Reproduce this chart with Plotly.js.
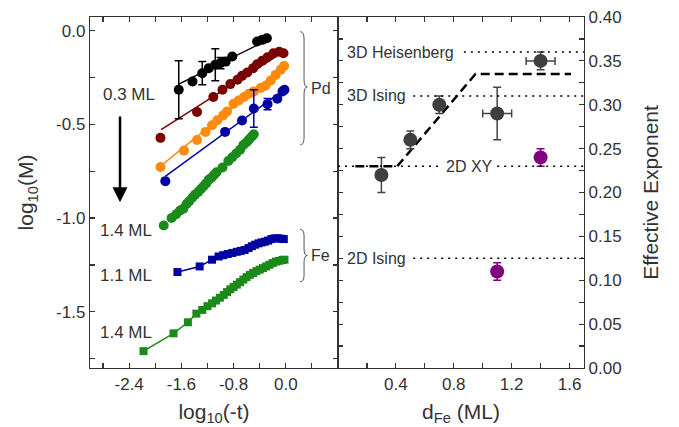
<!DOCTYPE html>
<html><head><meta charset="utf-8">
<script src="https://cdn.plot.ly/plotly-3.0.1.min.js"></script>
<style>html,body{margin:0;padding:0;background:#fff}</style>
</head><body><div id="chart" style="width:679px;height:427px"></div>
<script>
// ---------- Left panel: log10(M) vs log10(-t) ----------
const pd03X = [-1.64, -1.43, -1.28, -1.18, -1.08, -1.00, -0.92, -0.82, -0.44, -0.36, -0.29];
const pd03Y = [-0.315, -0.271, -0.227, -0.200, -0.182, -0.173, -0.165, -0.138, -0.058, -0.049, -0.040];
const pd03Err = [0.155, null, 0.062, null, 0.085, 0.03, null, null, null, null, null];
const pd03FitX = [-1.64, -0.28];
const pd03FitY = [-0.285, -0.050];

const pdBX = [-1.92, -1.36, -1.11, -0.97, -0.85, -0.74, -0.67, -0.59, -0.50, -0.44, -0.36, -0.28, -0.19, -0.10, -0.035];
const pdBY = [-0.572, -0.434, -0.354, -0.315, -0.285, -0.262, -0.241, -0.223, -0.200, -0.179, -0.160, -0.142, -0.120, -0.112, -0.120];
const pdBFitX = [-1.91, -0.03];
const pdBFitY = [-0.528, -0.112];

const pdCX = [-1.92, -1.56, -1.36, -1.23, -1.13, -1.05, -0.96, -0.90, -0.80, -0.72, -0.64, -0.565, -0.49, -0.385, -0.31, -0.23, -0.154, -0.077, -0.026];
const pdCY = [-0.727, -0.640, -0.583, -0.540, -0.505, -0.478, -0.452, -0.431, -0.390, -0.372, -0.354, -0.337, -0.324, -0.306, -0.294, -0.266, -0.236, -0.209, -0.188];
const pdCFitX = [-1.92, -0.03];
const pdCFitY = [-0.723, -0.191];

const pdDX = [-1.846, -0.93, -0.67, -0.49, -0.28, -0.13, -0.05, -0.02];
const pdDY = [-0.803, -0.540, -0.479, -0.415, -0.392, -0.363, -0.324, -0.315];
const pdDErr = [null, null, null, 0.10, 0.03, null, null, null];
const pdDFitX = [-1.846, -0.026];
const pdDFitY = [-0.777, -0.315];

const pd14X = [-1.87, -1.75, -1.68, -1.62, -1.57, -1.52, -1.48, -1.43, -1.39, -1.34, -1.30, -1.26, -1.22, -1.18, -1.14, -1.10, -1.06, -0.97, -0.88, -0.82, -0.76, -0.70, -0.65, -0.60, -0.56, -0.52, -0.49];
const pd14Y = [-1.04, -1.00, -0.98, -0.96, -0.95, -0.925, -0.91, -0.89, -0.875, -0.86, -0.845, -0.83, -0.815, -0.795, -0.785, -0.77, -0.755, -0.73, -0.695, -0.675, -0.655, -0.635, -0.61, -0.595, -0.58, -0.565, -0.553];

const fe11X = [-1.66, -1.32, -1.13, -1.03, -0.96, -0.89, -0.82, -0.75, -0.69, -0.63, -0.57, -0.52, -0.47, -0.42, -0.37, -0.32, -0.27, -0.22, -0.17, -0.12, -0.07, -0.03];
const fe11Y = [-1.288, -1.258, -1.222, -1.205, -1.198, -1.192, -1.186, -1.180, -1.175, -1.170, -1.160, -1.150, -1.142, -1.135, -1.130, -1.126, -1.120, -1.112, -1.108, -1.108, -1.110, -1.112];

const fe14X = [-2.18, -1.72, -1.50, -1.37, -1.28, -1.20, -1.13, -1.07, -1.01, -0.95, -0.90, -0.85, -0.80, -0.75, -0.70, -0.65, -0.60, -0.55, -0.50, -0.45, -0.40, -0.35, -0.30, -0.25, -0.20, -0.15, -0.10, -0.05, -0.02];
const fe14Y = [-1.71, -1.615, -1.556, -1.51, -1.49, -1.47, -1.455, -1.44, -1.425, -1.41, -1.395, -1.38, -1.368, -1.355, -1.342, -1.328, -1.315, -1.303, -1.293, -1.283, -1.275, -1.267, -1.258, -1.249, -1.24, -1.232, -1.228, -1.224, -1.222];

const leftXTicks = [-2.4, -1.6, -0.8, 0.0];
const leftXTickText = ["-2.4", "-1.6", "-0.8", "0.0"];
const leftYTicks = [0.0, -0.5, -1.0, -1.5];
const leftYTickText = ["0.0", "-0.5", "-1.0", "-1.5"];

// ---------- Right panel: effective exponent vs d_Fe ----------
const dFe = [0.3, 0.5, 0.7, 1.1, 1.4];
const beta = [0.22, 0.26, 0.30, 0.29, 0.35];
const betaErr = [0.02, 0.01, 0.01, 0.03, 0.01];
const dFeErr = [null, null, null, 0.1, 0.1];
const dFeP = [1.1, 1.4];
const betaP = [0.11, 0.24];
const betaPErr = [0.01, 0.01];
const guideX = [0.12, 0.41, 0.95, 1.61];
const guideY = [0.23, 0.23, 0.335, 0.335];
const classNames = ["3D Heisenberg", "3D Ising", "2D XY", "2D Ising"];
const classValues = [0.36, 0.31, 0.23, 0.125];
const rightXTicks = [0.4, 0.8, 1.2, 1.6];

// ---------- styling ----------
const FONT = "Liberation Sans, Arial, sans-serif";
const TXT = "#333333";
const AX = "#333333";
const cBlack = "#000000", cMaroon = "#7a0000", cOrange = "#ff8a10", cBlue = "#0000a0", cGreen = "#1a8a1a";

function pts(x, y, color, symbol, size, err, errColor) {
  const t = {x: x, y: y, xaxis: 'x', yaxis: 'y', mode: 'markers', type: 'scatter',
    marker: {color: color, size: size, symbol: symbol, line: {width: 0}}, hoverinfo: 'skip'};
  if (err) t.error_y = {type: 'data', array: err, visible: true, color: errColor || color, thickness: 1.5, width: 4};
  return t;
}
function fit(x, y, color, extra) {
  return Object.assign({x: x, y: y, xaxis: 'x', yaxis: 'y', mode: 'lines', type: 'scatter',
    line: {color: color, width: 1.5}, hoverinfo: 'skip'}, extra || {});
}

const traces = [
  fit(pdBFitX, pdBFitY, cMaroon), pts(pdBX, pdBY, cMaroon, 'circle', 10),
  fit(pdCFitX, pdCFitY, cOrange), pts(pdCX, pdCY, cOrange, 'circle', 10),
  fit(pdDFitX, pdDFitY, cBlue), pts(pdDX, pdDY, cBlue, 'circle', 10, pdDErr),
  pts(pd14X, pd14Y, cGreen, 'circle', 10),
  fit(pd03FitX, pd03FitY, cBlack), pts(pd03X, pd03Y, cBlack, 'circle', 10, pd03Err),
  {x: fe11X, y: fe11Y, xaxis: 'x', yaxis: 'y', mode: 'lines+markers', type: 'scatter',
    line: {color: cBlue, width: 1.5}, marker: {color: cBlue, size: 8, symbol: 'square'}, hoverinfo: 'skip'},
  {x: fe14X, y: fe14Y, xaxis: 'x', yaxis: 'y', mode: 'lines+markers', type: 'scatter',
    line: {color: cGreen, width: 1.5}, marker: {color: cGreen, size: 8, symbol: 'square'}, hoverinfo: 'skip'},
  // right panel
  {x: guideX, y: guideY, xaxis: 'x2', yaxis: 'y2', mode: 'lines', type: 'scatter',
    line: {color: '#000', width: 2.5, dash: '9px,5px'}, hoverinfo: 'skip'},
  {x: dFe, y: beta, xaxis: 'x2', yaxis: 'y2', mode: 'markers', type: 'scatter',
    marker: {color: '#3f3f3f', size: 14},
    error_y: {type: 'data', array: betaErr, color: '#444', thickness: 1.5, width: 4},
    error_x: {type: 'data', array: dFeErr, color: '#444', thickness: 1.5, width: 4}, hoverinfo: 'skip'},
  {x: dFeP, y: betaP, xaxis: 'x2', yaxis: 'y2', mode: 'markers', type: 'scatter',
    marker: {color: '#800080', size: 14},
    error_y: {type: 'data', array: betaPErr, color: '#800080', thickness: 1.5, width: 4}, hoverinfo: 'skip'}
];

// dotted reference lines (start/end in x2 units)
const dotSegs = [[[0.87, 1.7]], [[0.52, 1.7]], [[0.0, 0.72], [1.10, 1.7]], [[0.52, 1.7]]];
const shapes = [];
classValues.forEach((v, i) => {
  dotSegs[i].forEach(s => shapes.push({type: 'line', xref: 'x2', yref: 'y2', x0: s[0], x1: s[1], y0: v, y1: v,
    line: {color: '#000', width: 1.5, dash: '2px,5px'}}));
});
// curly braces (left panel)
function brace(xl, xm, xr, yT, yC, yB, r) {
  return {type: 'path', xref: 'x', yref: 'y', line: {color: '#555', width: 1},
    path: `M${xl},${yT} Q${xm},${yT} ${xm},${yT - r} L${xm},${yC + r} Q${xm},${yC} ${xr},${yC} Q${xm},${yC} ${xm},${yC - r} L${xm},${yB + r} Q${xm},${yB} ${xl},${yB}`};
}
shapes.push(brace(0.22, 0.28, 0.33, -0.005, -0.30, -0.61, 0.04));
shapes.push(brace(0.22, 0.28, 0.33, -1.06, -1.20, -1.34, 0.035));

const annFont = {family: FONT, size: 16, color: TXT};
const mlFont = {family: FONT, size: 17, color: TXT};
const annotations = [
  {xref: 'x', yref: 'y', x: -2.41, y: -0.34, text: '0.3 ML', showarrow: false, font: mlFont},
  {xref: 'x', yref: 'y', x: -2.45, y: -1.065, text: '1.4 ML', showarrow: false, font: mlFont},
  {xref: 'x', yref: 'y', x: -2.45, y: -1.305, text: '1.1 ML', showarrow: false, font: mlFont},
  {xref: 'x', yref: 'y', x: -2.45, y: -1.613, text: '1.4 ML', showarrow: false, font: mlFont},
  {xref: 'x', yref: 'y', x: 0.36, y: -0.31, text: 'Pd', showarrow: false, xanchor: 'left', font: annFont},
  {xref: 'x', yref: 'y', x: 0.36, y: -1.20, text: 'Fe', showarrow: false, xanchor: 'left', font: annFont},
  {xref: 'x', yref: 'y', x: -2.54, y: -0.915, ax: -2.54, ay: -0.45, axref: 'x', ayref: 'y', text: '',
    showarrow: true, arrowhead: 2, arrowsize: 1.2, arrowwidth: 2.5, arrowcolor: '#000'},
  {xref: 'x2', yref: 'y2', x: 0.048, y: classValues[0], text: classNames[0], showarrow: false, xanchor: 'left', font: annFont},
  {xref: 'x2', yref: 'y2', x: 0.048, y: classValues[1], text: classNames[1], showarrow: false, xanchor: 'left', font: annFont},
  {xref: 'x2', yref: 'y2', x: 0.91, y: classValues[2], text: classNames[2], showarrow: false, font: annFont},
  {xref: 'x2', yref: 'y2', x: 0.048, y: classValues[3], text: classNames[3], showarrow: false, xanchor: 'left', font: annFont}
];

const tickFont = {family: FONT, size: 17, color: TXT};
const titleFont = {family: FONT, size: 21, color: TXT};
const axBase = {showgrid: false, zeroline: false, showline: true, linecolor: AX, linewidth: 1.2,
  ticks: 'inside', ticklen: 5, tickwidth: 1.2, tickcolor: AX, mirror: 'allticks', tickfont: tickFont};

const layout = {
  width: 679, height: 427,
  margin: {l: 90, r: 95, t: 17, b: 59},
  paper_bgcolor: '#fff', plot_bgcolor: '#fff',
  showlegend: false,
  font: {family: FONT, color: TXT},
  xaxis: Object.assign({}, axBase, {domain: [0, 0.502], range: [-3.0, 0.8], anchor: 'y',
    tickmode: 'array', tickvals: leftXTicks, ticktext: leftXTickText,
    minor: {dtick: 0.4, tick0: 0, ticks: 'inside', ticklen: 5, tickwidth: 1.2, tickcolor: AX},
    title: {text: 'log<sub>10</sub>(-t)', font: titleFont, standoff: 11}}),
  yaxis: Object.assign({}, axBase, {domain: [0, 1], range: [-1.8, 0.073], anchor: 'x',
    tickmode: 'array', tickvals: leftYTicks, ticktext: leftYTickText,
    minor: {dtick: 0.25, tick0: 0, ticks: 'inside', ticklen: 5, tickwidth: 1.2, tickcolor: AX},
    title: {text: 'log<sub>10</sub>(M)', font: titleFont, standoff: 16}}),
  xaxis2: Object.assign({}, axBase, {domain: [0.502, 1], range: [0, 1.7], anchor: 'y2',
    tickmode: 'array', tickvals: rightXTicks, ticktext: rightXTicks.map(v => v.toFixed(1)),
    minor: {dtick: 0.2, tick0: 0, ticks: 'inside', ticklen: 5, tickwidth: 1.2, tickcolor: AX},
    title: {text: 'd<sub>Fe</sub> (ML)', font: titleFont, standoff: 11}}),
  yaxis2: Object.assign({}, axBase, {domain: [0, 1], range: [0, 0.4], anchor: 'x2', side: 'right',
    dtick: 0.05, tick0: 0, tickformat: '.2f',
    minor: {dtick: 0.025, tick0: 0, ticks: 'inside', ticklen: 5, tickwidth: 1.2, tickcolor: AX},
    title: {text: 'Effective Exponent', font: titleFont, standoff: 22}}),
  shapes: shapes,
  annotations: annotations
};

Plotly.newPlot('chart', traces, layout, {staticPlot: true, displayModeBar: false});
</script></body></html>
